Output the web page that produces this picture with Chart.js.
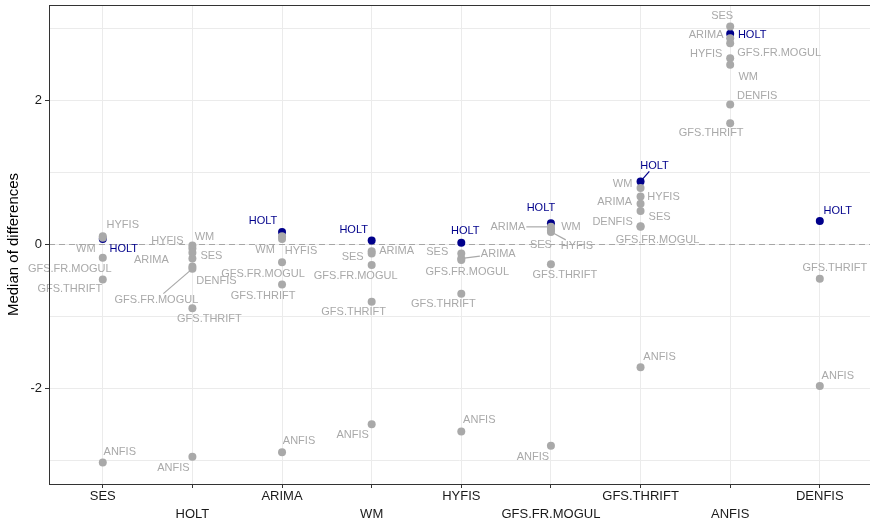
<!DOCTYPE html>
<html lang="en">
<head>
  <meta charset="UTF-8">
  <title>Median of differences</title>
  <script src="https://cdn.jsdelivr.net/npm/chart.js"></script>
  <style>
    html, body { margin: 0; padding: 0; background: #fff; }
    #wrap { width: 870px; height: 523px; }
  </style>
</head>
<body>
  <div id="wrap"><canvas id="medianChart" width="870" height="523"></canvas></div>

  <script>
    // columns (x axis) = reference model
    const categories = ['SES', 'HOLT', 'ARIMA', 'WM', 'HYFIS', 'GFS.FR.MOGUL', 'GFS.THRIFT', 'ANFIS', 'DENFIS'];
    const yTickLabels = [-2, 0, 2];

    // one list per compared model, value per column (null = not shown)
    const sesVals    = [null, -0.12, null, -0.13, -0.13, 0.19, 0.46, 3.02, null];
    const holtVals   = [0.07, null, 0.17, 0.05, 0.02, 0.29, 0.87, 2.92, 0.32];
    const arimaVals  = [null, -0.20, null, -0.10, -0.20, 0.24, 0.56, 2.86, null];
    const wmVals     = [0.09, -0.02, 0.11, null, null, 0.21, 0.78, 2.49, null];
    const hyfisVals  = [0.11, -0.06, 0.07, null, null, 0.17, 0.66, 2.58, null];
    const mogulVals  = [-0.19, -0.34, -0.25, -0.29, -0.22, null, 0.24, 2.79, null];
    const thriftVals = [-0.49, -0.89, -0.56, -0.80, -0.69, -0.28, null, 1.68, -0.48];
    const anfisVals  = [-3.03, -2.95, -2.89, -2.50, -2.60, -2.80, -1.71, null, -1.97];
    const denfisVals = [null, -0.31, null, null, null, null, 0.25, 1.94, null];

    const GREY = '#a9a9a9';
    const BLUE = '#00008b';
    const FONT = '"Liberation Sans", Arial, sans-serif';

    // label placement (pixel nudge from the point), [dx, dy, leaderLine]
    const labelNudge = {
      'SES':          {1: [19, 3], 3: [-19, 3], 4: [-24, -2], 5: [-10, 15], 6: [19, 6], 7: [-8, -11]},
      'HOLT':         {0: [21, 10], 2: [-19, -11], 3: [-18, -11], 4: [4, -12], 5: [-10, -15], 6: [14, -16, true], 7: [22, 1], 8: [18, -10]},
      'ARIMA':        {1: [-41, 1], 3: [25, 0], 4: [37, -5, true], 5: [-43, 0, true], 6: [-26, -2], 7: [-24, -3]},
      'WM':           {0: [-17, 11], 1: [12, -9], 2: [-17, 14], 5: [20, -2], 6: [-18, -4], 7: [18, 12]},
      'HYFIS':        {0: [20, -11], 1: [-25, -7], 2: [19, 12], 5: [26, 14, true], 6: [23, 0], 7: [-24, -4]},
      'GFS.FR.MOGUL': {0: [-33, 11], 1: [-36, 31, true], 2: [-19, 12], 3: [-16, 11], 4: [6, 12], 6: [17, 13], 7: [49, 10]},
      'GFS.THRIFT':   {0: [-33, 10], 1: [17, 11], 2: [-19, 11], 3: [-18, 10], 4: [-18, 10], 5: [14, 11], 7: [-19, 10], 8: [15, -11]},
      'ANFIS':        {0: [17, -10], 1: [-19, 11], 2: [17, -11], 3: [-19, 11], 4: [18, -11], 5: [-18, 11], 6: [19, -10], 8: [18, -10]},
      'DENFIS':       {1: [24, 14], 6: [-28, -4], 7: [27, -8]}
    };

    // HOLT last so the grey points sit on top of it
    const series = [
      ['SES', sesVals], ['ARIMA', arimaVals], ['WM', wmVals], ['HYFIS', hyfisVals],
      ['GFS.FR.MOGUL', mogulVals], ['GFS.THRIFT', thriftVals], ['ANFIS', anfisVals],
      ['DENFIS', denfisVals], ['HOLT', holtVals]
    ];

    const datasets = series.map(([name, vals]) => ({
      label: name,
      data: vals.map((v, i) => v === null ? null : {x: i, y: v}).filter(p => p),
      pointRadius: 4,
      pointHoverRadius: 4,
      pointBorderWidth: 0,
      backgroundColor: name === 'HOLT' ? BLUE : GREY,
      borderColor: name === 'HOLT' ? BLUE : GREY
    }));

    const extrasPlugin = {
      id: 'ggExtras',
      beforeDatasetsDraw(chart) {
        const {ctx, chartArea: a, scales: {y}} = chart;
        const y0 = Math.round(y.getPixelForValue(0)) + 0.5;
        ctx.save();
        ctx.strokeStyle = '#a6a6a6';
        ctx.lineWidth = 1.2;
        ctx.setLineDash([6, 4]);
        ctx.beginPath();
        ctx.moveTo(a.left, y0);
        ctx.lineTo(a.right, y0);
        ctx.stroke();
        ctx.restore();
      },
      afterDatasetsDraw(chart) {
        const {ctx, scales: {x, y}} = chart;
        ctx.save();
        ctx.font = '11px ' + FONT;
        ctx.textAlign = 'center';
        ctx.textBaseline = 'middle';
        series.forEach(([name, vals]) => {
          const color = name === 'HOLT' ? BLUE : GREY;
          vals.forEach((v, i) => {
            const n = labelNudge[name] && labelNudge[name][i];
            if (v === null || !n) return;
            const px = x.getPixelForValue(i);
            const py = y.getPixelForValue(v);
            const lx = px + n[0];
            const ly = py + n[1];
            if (n[2]) {
              const hw = ctx.measureText(name).width / 2 + 1;
              const hh = 6;
              const dx = px - lx, dy = py - ly;
              const t = Math.min(dx ? hw / Math.abs(dx) : 1e9, dy ? hh / Math.abs(dy) : 1e9);
              const len = Math.hypot(dx, dy);
              ctx.strokeStyle = color;
              ctx.lineWidth = 1.2;
              ctx.beginPath();
              ctx.moveTo(lx + dx * t, ly + dy * t);
              ctx.lineTo(px - dx / len * 3, py - dy / len * 3);
              ctx.stroke();
            }
            ctx.fillStyle = color;
            ctx.fillText(name, lx, ly);
          });
        });
        ctx.restore();
      },
      afterDraw(chart) {
        const {ctx, chartArea: a} = chart;
        ctx.save();
        ctx.strokeStyle = '#333333';
        ctx.lineWidth = 1;
        ctx.strokeRect(Math.round(a.left) + 0.5, Math.round(a.top) + 0.5, a.right - a.left + 4, Math.round(a.bottom - a.top));
        // y axis title
        ctx.fillStyle = '#000';
        ctx.font = '15px ' + FONT;
        ctx.textAlign = 'center';
        ctx.textBaseline = 'middle';
        ctx.translate(14, (a.top + a.bottom) / 2);
        ctx.rotate(-Math.PI / 2);
        ctx.fillText('Median of differences', 0, 0);
        ctx.restore();
      }
    };

    new Chart(document.getElementById('medianChart'), {
      type: 'scatter',
      data: { datasets: datasets },
      plugins: [extrasPlugin],
      options: {
        responsive: false,
        animation: false,
        events: [],
        layout: { autoPadding: false, padding: { top: 5, right: 0, left: 0, bottom: 0 } },
        plugins: { legend: { display: false }, tooltip: { enabled: false } },
        scales: {
          x: {
            type: 'linear',
            min: -0.6,
            max: 8.56,
            afterBuildTicks: scale => { scale.ticks = categories.map((c, i) => ({value: i})); },
            afterFit: scale => { scale.height = 39; scale.paddingLeft = 0; scale.paddingRight = 0; },
            grid: { color: '#ebebeb', lineWidth: 1, tickLength: 4, tickColor: '#333333' },
            border: { display: false },
            ticks: {
              autoSkip: false,
              maxRotation: 0,
              padding: 0,
              color: '#1a1a1a',
              font: { family: FONT, size: 13, lineHeight: 1.35 },
              callback: v => v % 2 === 0 ? categories[v] : ['', categories[v]]
            }
          },
          y: {
            min: -3.33,
            max: 3.32,
            afterBuildTicks: scale => { scale.ticks = [-3, -2, -1, 0, 1, 2, 3].map(v => ({value: v})); },
            afterFit: scale => { scale.width = 49; scale.paddingTop = 0; scale.paddingBottom = 0; },
            grid: {
              color: '#ebebeb',
              lineWidth: 1,
              tickLength: 4,
              tickColor: c => yTickLabels.includes(c.tick.value) ? '#333333' : 'rgba(0,0,0,0)'
            },
            border: { display: false },
            ticks: {
              padding: 3,
              color: '#1a1a1a',
              font: { family: FONT, size: 13 },
              callback: v => yTickLabels.includes(v) ? String(v) : ''
            }
          }
        }
      }
    });
  </script>
</body>
</html>
